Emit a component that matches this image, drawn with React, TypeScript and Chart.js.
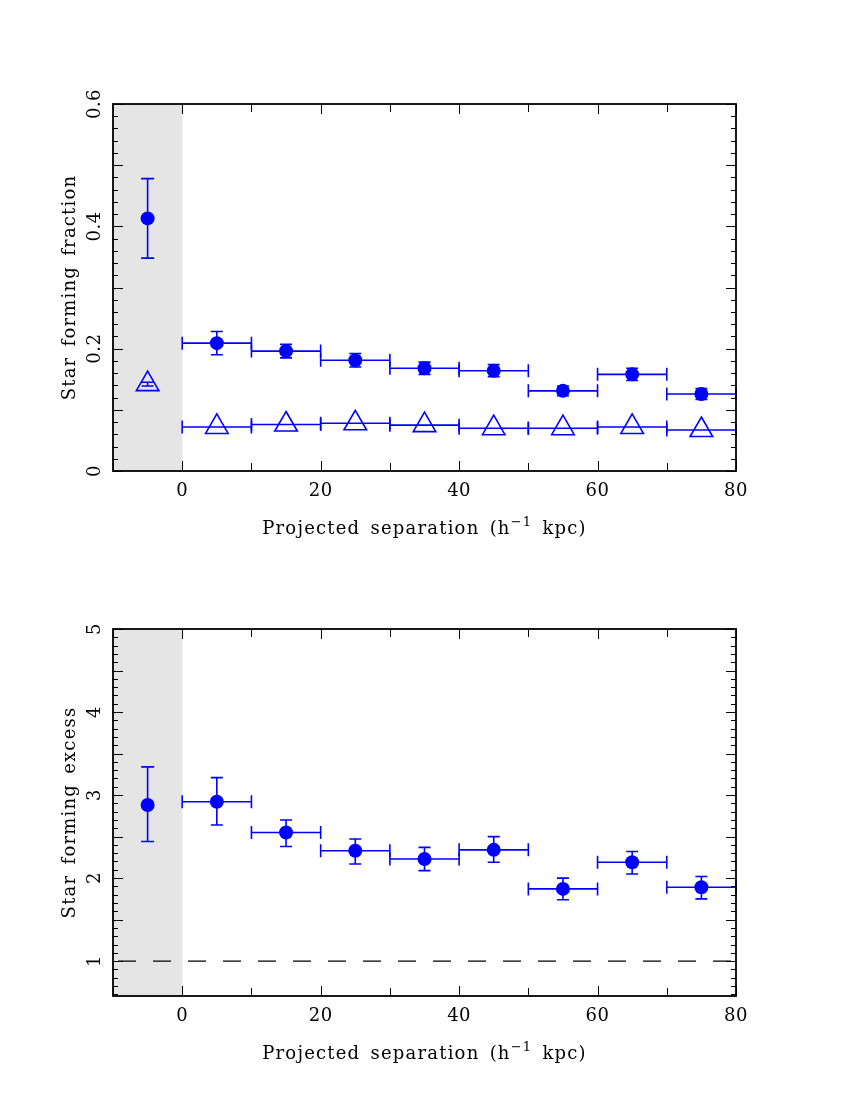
import React, { useEffect, useRef } from 'react';
import { Chart, registerables } from 'chart.js';

Chart.register(...registerables);

// ---------- data ----------
const binCenters = [5, 15, 25, 35, 45, 55, 65, 75];
const binHalfWidth = 5;
const isolatedX = [-5];

// top panel: star forming fraction (filled circles)
const fracPairs = [0.209, 0.196, 0.181, 0.168, 0.164, 0.131, 0.158, 0.126];
const fracPairsErr = [0.019, 0.011, 0.011, 0.01, 0.01, 0.008, 0.01, 0.009];
const fracIsolatedPair = [0.413];
const fracIsolatedPairErr = [0.065];

// top panel: control sample (open triangles)
const fracControl = [0.072, 0.076, 0.078, 0.075, 0.070, 0.070, 0.072, 0.067];
const fracIsolatedControl = [0.142];
const fracIsolatedControlErr = [0.003];

// bottom panel: star forming excess
const excessPairs = [2.92, 2.55, 2.33, 2.23, 2.34, 1.87, 2.19, 1.89];
const excessErrLo = [0.28, 0.17, 0.16, 0.14, 0.15, 0.13, 0.14, 0.14];
const excessErrHi = [0.29, 0.15, 0.14, 0.14, 0.16, 0.13, 0.13, 0.13];
const excessIsolated = [2.88];
const excessIsolatedErrLo = [0.44];
const excessIsolatedErrHi = [0.46];
const unityLevel = 1;

// axes
const xRange = [-10, 80];
const xMinorTicks = [-10, 0, 10, 20, 30, 40, 50, 60, 70, 80];
const xTickLabels = [0, 20, 40, 60, 80];
const shadedRange = [-10, 0];

const topYRange = [0, 0.6];
const topYTickLabels = ['0', '0.2', '0.4', '0.6'];
const topYLabelValues = [0, 0.2, 0.4, 0.6];
const topYMinorStep = 0.02;
const topYMajorStep = 0.1;

const botYRange = [0.58, 5];
const botYTickLabels = ['1', '2', '3', '4', '5'];
const botYLabelValues = [1, 2, 3, 4, 5];
const botYMinorStep = 0.1;
const botYMajorStep = 0.5;

const SP = '\u2002';
const xTitle = `Projected${SP}separation${SP}(h`;
const xTitleSup = '\u22121';
const xTitleEnd = `${SP}kpc)`;
const topYTitle = `Star${SP}forming${SP}fraction`;
const botYTitle = `Star${SP}forming${SP}excess`;

const BLUE = '#0000ff';
const FONT = '"DejaVu Serif", serif';

// ---------- plugins ----------
const shadePlugin = {
  id: 'shade',
  beforeDatasetsDraw(chart: any) {
    const { ctx, chartArea, scales } = chart;
    const x0 = scales.x.getPixelForValue(shadedRange[0]);
    const x1 = scales.x.getPixelForValue(shadedRange[1]);
    ctx.save();
    ctx.fillStyle = '#e5e5e5';
    ctx.fillRect(x0, chartArea.top, x1 - x0, chartArea.bottom - chartArea.top);
    ctx.restore();
  },
};

const errorBarPlugin = {
  id: 'errbars',
  beforeDatasetsDraw(chart: any) {
    const { ctx, scales } = chart;
    const xs = scales.x;
    const ys = scales.y;
    ctx.save();
    ctx.strokeStyle = BLUE;
    ctx.lineWidth = 1.6;
    chart.data.datasets.forEach((ds: any) => {
      if (!ds.errs) return;
      ds.data.forEach((p: any, i: number) => {
        const e = ds.errs[i];
        const px = xs.getPixelForValue(p.x);
        const py = ys.getPixelForValue(p.y);
        if (e.xw) {
          const xl = xs.getPixelForValue(p.x - e.xw);
          const xr = xs.getPixelForValue(p.x + e.xw);
          ctx.beginPath();
          ctx.moveTo(xl, py);
          ctx.lineTo(xr, py);
          ctx.moveTo(xl, py - 6.5);
          ctx.lineTo(xl, py + 6.5);
          ctx.moveTo(xr, py - 6.5);
          ctx.lineTo(xr, py + 6.5);
          ctx.stroke();
        }
        if (e.lo || e.hi) {
          const yt = ys.getPixelForValue(p.y + e.hi);
          const yb = ys.getPixelForValue(p.y - e.lo);
          const cap = e.cap || 6.5;
          ctx.beginPath();
          ctx.moveTo(px, yt);
          ctx.lineTo(px, yb);
          ctx.moveTo(px - cap, yt);
          ctx.lineTo(px + cap, yt);
          ctx.moveTo(px - cap, yb);
          ctx.lineTo(px + cap, yb);
          ctx.stroke();
        }
      });
    });
    ctx.restore();
  },
};

function makeFramePlugin(cfg: any) {
  return {
    id: 'frame',
    afterDraw(chart: any) {
      const { ctx, chartArea, scales } = chart;
      const { left, right, top, bottom } = chartArea;
      const xs = scales.x;
      const ys = scales.y;
      ctx.save();
      ctx.strokeStyle = '#000';
      ctx.lineWidth = 1;
      // y ticks
      const [ymin, ymax] = cfg.yRange;
      const start = Math.ceil(ymin / cfg.minor - 1e-6);
      const end = Math.floor(ymax / cfg.minor + 1e-6);
      ctx.beginPath();
      for (let k = start; k <= end; k++) {
        const v = k * cfg.minor;
        const r = v / cfg.major;
        const isMajor = Math.abs(r - Math.round(r)) < 1e-6;
        const len = isMajor ? 10 : 5;
        const py = Math.round(ys.getPixelForValue(v)) + 0.5;
        ctx.moveTo(left, py);
        ctx.lineTo(left + len, py);
        ctx.moveTo(right, py);
        ctx.lineTo(right - len, py);
      }
      // x ticks
      xMinorTicks.forEach((v) => {
        const isMajor = xTickLabels.includes(v);
        const len = isMajor ? 10 : 8;
        const px = Math.round(xs.getPixelForValue(v)) + 0.5;
        ctx.moveTo(px, bottom);
        ctx.lineTo(px, bottom - len);
        ctx.moveTo(px, top);
        ctx.lineTo(px, top + len);
      });
      ctx.stroke();
      // frame
      ctx.lineWidth = 1.8;
      ctx.strokeRect(left, top, right - left, bottom - top);

      // labels
      ctx.fillStyle = '#000';
      (ctx as any).letterSpacing = '0.5px';
      ctx.font = `18px ${FONT}`;
      ctx.textAlign = 'center';
      ctx.textBaseline = 'alphabetic';
      xTickLabels.forEach((v) => {
        ctx.fillText(String(v), xs.getPixelForValue(v), bottom + 25);
      });
      cfg.yLabelValues.forEach((v: number, i: number) => {
        const py = ys.getPixelForValue(v);
        ctx.save();
        ctx.translate(left - 13, py);
        ctx.rotate(-Math.PI / 2);
        ctx.fillText(cfg.yLabels[i], 0, 0);
        ctx.restore();
      });
      (ctx as any).letterSpacing = '1.2px';
      // y title
      ctx.save();
      ctx.translate(left - 38, (top + bottom) / 2);
      ctx.rotate(-Math.PI / 2);
      ctx.font = `18px ${FONT}`;
      ctx.fillText(cfg.yTitle, 0, 0);
      ctx.restore();
      // x title with superscript
      const big = `18px ${FONT}`;
      const small = `13px ${FONT}`;
      ctx.font = big;
      const w1 = ctx.measureText(xTitle).width;
      const w3 = ctx.measureText(xTitleEnd).width;
      ctx.font = small;
      const w2 = ctx.measureText(xTitleSup).width;
      const total = w1 + w2 + w3;
      let x = (left + right) / 2 - total / 2;
      const ty = bottom + 63;
      ctx.textAlign = 'left';
      ctx.font = big;
      ctx.fillText(xTitle, x, ty);
      x += w1;
      ctx.font = small;
      ctx.fillText(xTitleSup, x, ty - 8);
      x += w2;
      ctx.font = big;
      ctx.fillText(xTitleEnd, x, ty);
      ctx.restore();
    },
  };
}

function pts(xs: number[], ys: number[]) {
  return xs.map((x, i) => ({ x, y: ys[i] }));
}

function baseOptions(yRange: number[], padding: any) {
  return {
    responsive: false,
    animation: false,
    events: [],
    layout: { padding },
    plugins: { legend: { display: false }, tooltip: { enabled: false } },
    scales: {
      x: { type: 'linear', min: xRange[0], max: xRange[1], display: false },
      y: { type: 'linear', min: yRange[0], max: yRange[1], display: false },
    },
  };
}

function TopChart() {
  const ref = useRef<HTMLCanvasElement>(null);
  useEffect(() => {
    const chart = new Chart(ref.current as HTMLCanvasElement, {
      type: 'scatter',
      data: {
        datasets: [
          {
            label: 'Control',
            data: pts(binCenters, fracControl),
            errs: binCenters.map(() => ({ xw: binHalfWidth })),
            pointStyle: 'triangle',
            pointRadius: 13,
            backgroundColor: 'rgba(0,0,0,0)',
            borderColor: BLUE,
            borderWidth: 1.6,
          },
          {
            label: 'Control isolated',
            data: pts(isolatedX, fracIsolatedControl),
            errs: fracIsolatedControlErr.map((e) => ({ lo: e, hi: e, cap: 6 })),
            pointStyle: 'triangle',
            pointRadius: 13,
            backgroundColor: 'rgba(0,0,0,0)',
            borderColor: BLUE,
            borderWidth: 1.6,
          },
          {
            label: 'Pairs',
            data: pts(binCenters, fracPairs),
            errs: fracPairsErr.map((e) => ({ lo: e, hi: e, xw: binHalfWidth, cap: 6 })),
            pointStyle: 'circle',
            pointRadius: 7,
            backgroundColor: BLUE,
            borderColor: BLUE,
            borderWidth: 0,
          },
          {
            label: 'Pairs isolated',
            data: pts(isolatedX, fracIsolatedPair),
            errs: fracIsolatedPairErr.map((e) => ({ lo: e, hi: e, cap: 6.5 })),
            pointStyle: 'circle',
            pointRadius: 7,
            backgroundColor: BLUE,
            borderColor: BLUE,
            borderWidth: 0,
          },
        ],
      } as any,
      options: baseOptions(topYRange, { left: 113, top: 104, right: 114, bottom: 89 }) as any,
      plugins: [
        shadePlugin,
        errorBarPlugin,
        makeFramePlugin({
          yRange: topYRange,
          minor: topYMinorStep,
          major: topYMajorStep,
          yLabels: topYTickLabels,
          yLabelValues: topYLabelValues,
          yTitle: topYTitle,
        }),
      ],
    });
    return () => chart.destroy();
  }, []);
  return <canvas ref={ref} width={850} height={560} style={{ display: 'block' }} />;
}

function BottomChart() {
  const ref = useRef<HTMLCanvasElement>(null);
  useEffect(() => {
    const chart = new Chart(ref.current as HTMLCanvasElement, {
      type: 'scatter',
      data: {
        datasets: [
          {
            type: 'line',
            label: 'Unity',
            data: pts(xRange, [unityLevel, unityLevel]),
            borderColor: '#000',
            borderWidth: 1.3,
            borderDash: [18, 17],
            borderDashOffset: -5,
            pointRadius: 0,
            fill: false,
          },
          {
            label: 'Excess',
            data: pts(binCenters, excessPairs),
            errs: excessPairs.map((_, i) => ({ lo: excessErrLo[i], hi: excessErrHi[i], xw: binHalfWidth, cap: 6 })),
            pointStyle: 'circle',
            pointRadius: 7,
            backgroundColor: BLUE,
            borderColor: BLUE,
            borderWidth: 0,
          },
          {
            label: 'Excess isolated',
            data: pts(isolatedX, excessIsolated),
            errs: excessIsolated.map((_, i) => ({ lo: excessIsolatedErrLo[i], hi: excessIsolatedErrHi[i], cap: 6.5 })),
            pointStyle: 'circle',
            pointRadius: 7,
            backgroundColor: BLUE,
            borderColor: BLUE,
            borderWidth: 0,
          },
        ],
      } as any,
      options: baseOptions(botYRange, { left: 113, top: 69, right: 114, bottom: 104 }) as any,
      plugins: [
        shadePlugin,
        errorBarPlugin,
        makeFramePlugin({
          yRange: botYRange,
          minor: botYMinorStep,
          major: botYMajorStep,
          yLabels: botYTickLabels,
          yLabelValues: botYLabelValues,
          yTitle: botYTitle,
        }),
      ],
    });
    return () => chart.destroy();
  }, []);
  return <canvas ref={ref} width={850} height={540} style={{ display: 'block' }} />;
}

export default function App() {
  return (
    <div style={{ position: 'absolute', left: 0, top: 0, width: 850, height: 1100, background: '#fff' }}>
      <TopChart />
      <BottomChart />
    </div>
  );
}
